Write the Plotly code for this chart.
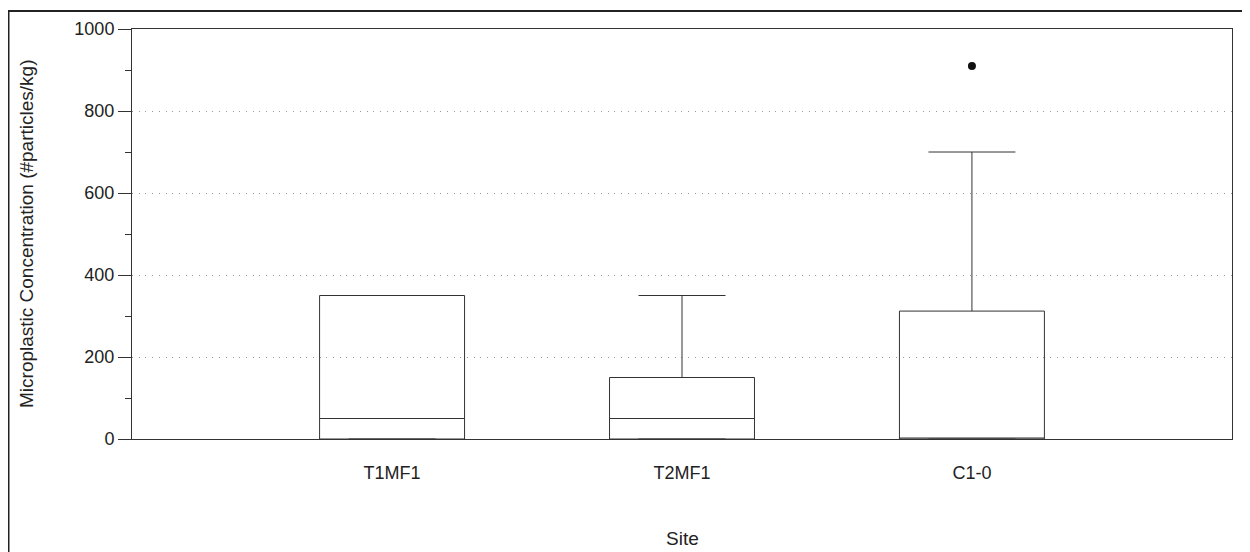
import plotly.graph_objects as go

sites = ["T1MF1", "T2MF1", "C1-0"]
q1 = [0, 0, 0]
median = [50, 50, 0]
q3 = [350, 150, 312]
lowerfence = [0, 0, 0]
upperfence = [350, 350, 700]
outlier_site = ["C1-0"]
outlier_value = [910]

yticks = [0, 200, 400, 600, 800, 1000]

FONT = "Liberation Sans, Arial, Helvetica, sans-serif"
LINE = "#333333"

fig = go.Figure()
fig.add_trace(go.Box(
    x=sites, q1=q1, median=median, q3=q3,
    lowerfence=lowerfence, upperfence=upperfence,
    width=0.5, whiskerwidth=0.6,
    line=dict(color=LINE, width=1),
    fillcolor="rgba(255,255,255,0)",
    boxpoints=False, showlegend=False, hoverinfo="skip",
))
fig.add_trace(go.Scatter(
    x=outlier_site, y=outlier_value, mode="markers",
    marker=dict(color="#111111", size=8),
    showlegend=False, hoverinfo="skip",
))

# page body has an 8px margin; figure sized to fit the viewport
W, H = 1242, 544
L, R, T, B = 124, 18, 21, 113
pw, ph = W - L - R, H - T - B

def px_x(p):
    return (p - L) / pw

def px_y(p):
    return (H - B - p) / ph

fig.update_layout(
    width=W, height=H,
    margin=dict(l=L, r=R, t=T, b=B),
    paper_bgcolor="white", plot_bgcolor="white",
    font=dict(family=FONT, size=18, color="#222222"),
    xaxis=dict(
        type="category", categoryorder="array", categoryarray=sites,
        range=[-0.897, 2.897], automargin=False,
        showline=True, linecolor=LINE, linewidth=1, mirror=True,
        ticks="outside", ticklen=17, tickcolor="rgba(0,0,0,0)",
        showgrid=False, zeroline=False,
        tickfont=dict(size=18),
    ),
    yaxis=dict(
        range=[0, 1000], tickvals=yticks, automargin=False,
        showline=True, linecolor=LINE, linewidth=1, mirror=True,
        ticks="outside", ticklen=13, tickcolor=LINE,
        minor=dict(ticks="outside", ticklen=6, dtick=100, tickcolor=LINE, showgrid=False),
        showgrid=True, gridcolor="#999999", griddash="1px,5.7px", gridwidth=1,
        zeroline=False,
        tickfont=dict(size=18),
    ),
    annotations=[
        dict(text="Microplastic Concentration (#particles/kg)", textangle=-90,
             xref="paper", yref="paper", x=px_x(18), y=0.5,
             xanchor="center", yanchor="middle", showarrow=False,
             font=dict(size=19)),
        dict(text="Site", xref="paper", yref="paper", x=0.5, y=px_y(530),
             xanchor="center", yanchor="middle", showarrow=False,
             font=dict(size=19)),
    ],
    shapes=[
        dict(type="line", xref="paper", yref="paper",
             x0=px_x(0.5), x1=px_x(0.5), y0=px_y(H + 20), y1=px_y(3),
             line=dict(color="#222222", width=2)),
        dict(type="line", xref="paper", yref="paper",
             x0=px_x(0), x1=px_x(W + 20), y0=px_y(3), y1=px_y(3),
             line=dict(color="#222222", width=2)),
    ],
)

fig.write_html("out.html")
